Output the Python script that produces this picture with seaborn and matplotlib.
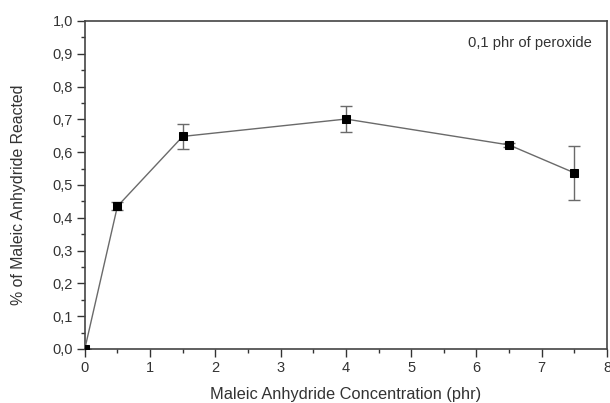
import matplotlib
matplotlib.use("Agg")
import matplotlib.pyplot as plt
from matplotlib.ticker import MultipleLocator, FuncFormatter
import seaborn as sns
import pandas as pd

# Maleic anhydride concentration (phr) and fraction reacted, with error bars
concentration = [0, 0.5, 1.5, 4, 6.5, 7.5]
reacted = [0.0, 0.435, 0.648, 0.701, 0.622, 0.537]
error = [0.0, 0.012, 0.037, 0.040, 0.005, 0.083]

x_ticks = [0, 1, 2, 3, 4, 5, 6, 7, 8]
y_ticks = [0.0, 0.1, 0.2, 0.3, 0.4, 0.5, 0.6, 0.7, 0.8, 0.9, 1.0]

sns.set_theme(style="ticks")
plt.rcParams["font.family"] = ["Liberation Sans", "DejaVu Sans"]

df = pd.DataFrame({"conc": concentration, "reacted": reacted, "err": error})

fig = plt.figure(figsize=(6.1, 4.03), dpi=100)
ax = fig.add_axes([0.139, 0.134, 0.856, 0.814])

ax.errorbar(df["conc"], df["reacted"], yerr=df["err"], fmt="none",
            ecolor="#6a6a6a", elinewidth=1.0, capsize=4, capthick=1.0, zorder=2)
sns.lineplot(data=df, x="conc", y="reacted", ax=ax, color="#6a6a6a",
             linewidth=1.0, marker="s", markersize=5.8, markerfacecolor="black",
             markeredgecolor="black", zorder=3)

ax.set_xlim(0, 8)
ax.set_ylim(0, 1.0)
ax.set_xticks(x_ticks)
ax.set_yticks(y_ticks)
ax.xaxis.set_minor_locator(MultipleLocator(0.5))
ax.yaxis.set_minor_locator(MultipleLocator(0.05))

ax.xaxis.set_major_formatter(FuncFormatter(lambda v, pos: f"{v:.0f}"))
ax.yaxis.set_major_formatter(FuncFormatter(lambda v, pos: f"{v:.1f}".replace(".", ",")))

ax.tick_params(axis="both", which="major", direction="out", length=5.5, width=1.0,
               labelsize=10.5, colors="#333333", pad=3)
ax.tick_params(axis="both", which="minor", direction="out", length=3, width=1.0,
               colors="#333333")
ax.tick_params(top=False, right=False)

for side in ["top", "right", "bottom", "left"]:
    ax.spines[side].set_visible(True)
    ax.spines[side].set_color("#444444")
    ax.spines[side].set_linewidth(1.2)

ax.set_xlabel("Maleic Anhydride Concentration (phr)", fontsize=11.8, color="#333333", labelpad=9)
ax.set_ylabel("% of Maleic Anhydride Reacted", fontsize=11.4, color="#333333")
ax.yaxis.set_label_coords(-0.113, 0.47)

ax.text(0.971, 0.933, "0,1 phr of peroxide", transform=ax.transAxes,
        ha="right", va="center", fontsize=10.6, color="#333333")

fig.savefig("out.png", dpi=100)
